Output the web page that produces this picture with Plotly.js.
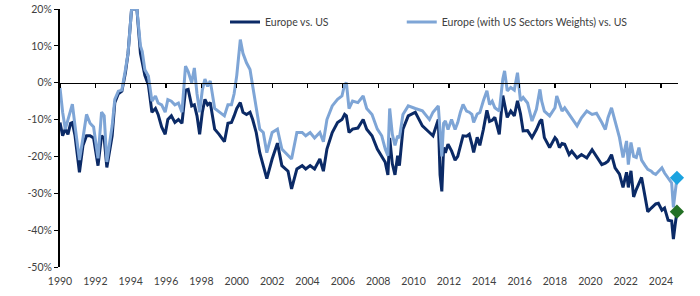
<!DOCTYPE html>
<html>
<head>
<meta charset="utf-8">
<script src="https://cdn.plot.ly/plotly-3.0.1.min.js"></script>
<style>html,body{margin:0;padding:0;background:#fff;}#chart{width:700px;height:296px;}</style>
</head>
<body>
<div id="chart"></div>
<script>
// Decimal-year time points (shared by both series)
const years = [
1990.00,1990.15,1990.30,1990.45,1990.60,1990.70,1990.85,1991.00,1991.10,1991.30,
1991.50,1991.70,1991.90,1992.15,1992.35,1992.50,1992.65,1992.95,1993.10,1993.30,
1993.50,1993.70,1993.85,1994.05,1994.35,1994.55,1994.65,1994.80,1995.00,1995.20,
1995.40,1995.55,1995.75,1995.95,1996.10,1996.30,1996.50,1996.70,1996.90,1997.10,
1997.25,1997.45,1997.60,1997.75,1997.90,1998.05,1998.20,1998.35,1998.50,1998.75,
1999.00,1999.30,1999.50,1999.70,1999.85,2000.00,2000.20,2000.35,2000.55,2000.75,
2000.90,2001.10,2001.30,2001.50,2001.70,2002.00,2002.30,2002.55,2002.90,2003.10,
2003.40,2003.70,2003.90,2004.15,2004.40,2004.70,2004.90,2005.10,2005.40,2005.70,
2005.95,2006.10,2006.20,2006.35,2006.55,2006.85,2007.15,2007.35,2007.65,2007.95,
2008.20,2008.40,2008.55,2008.65,2008.80,2008.95,2009.10,2009.20,2009.40,2009.70,
2010.10,2010.50,2010.90,2011.10,2011.40,
2011.50,2011.60,2011.70,2011.80,2011.95,2012.15,2012.35,2012.50,2012.65,2012.80,
2013.00,2013.15,2013.30,2013.40,2013.60,2013.75,2013.95,2014.15,2014.30,2014.45,
2014.60,2014.85,2015.05,2015.15,2015.30,2015.50,2015.70,2015.88,2016.05,2016.20,
2016.45,2016.70,2016.95,2017.15,2017.25,2017.40,2017.70,2018.00,2018.10,2018.25,
2018.40,2018.55,2018.80,2018.95,2019.25,2019.50,2019.80,2020.10,2020.35,2020.65,
2020.85,2021.00,2021.20,2021.40,2021.65,2021.85,2022.05,2022.15,2022.30,2022.45,
2022.60,2022.75,2022.90,2023.10,2023.25,2023.45,2023.55,2023.70,2023.85,2024.05,
2024.20,2024.40,2024.60,2024.70,2024.80,2024.90
];
// Europe vs. US (%)
const europeVsUS = [
-10.8,-14.4,-12.5,-14.0,-11.0,-10.8,-14.4,-20.0,-24.3,-17.0,
-14.4,-14.4,-15.0,-22.5,-14.4,-15.0,-23.0,-14.4,-5.4,-3.0,
-2.3,2.7,8.0,20.0,20.0,8.0,5.4,2.0,-0.6,-8.0,
-7.0,-8.6,-12.0,-14.0,-10.0,-9.0,-10.8,-10.0,-11.0,-2.0,
-1.8,-6.3,-6.0,-9.0,-14.0,-8.0,-4.5,-6.0,-5.4,-12.6,
-14.0,-16.0,-11.0,-10.8,-9.0,-7.0,-5.4,-8.0,-8.6,-8.0,
-10.0,-13.5,-19.0,-22.5,-26.0,-20.7,-16.4,-22.5,-24.0,-28.8,
-23.4,-22.5,-23.4,-22.5,-23.4,-20.7,-24.0,-18.0,-13.5,-10.8,
-10.0,-8.6,-9.0,-13.5,-12.6,-12.3,-10.0,-12.6,-14.4,-18.0,
-19.8,-21.6,-25.0,-15.0,-22.0,-25.0,-19.8,-22.5,-12.6,-9.0,
-8.0,-11.7,-13.5,-14.4,-10.0,
-25.0,-29.5,-17.6,-19.0,-16.7,-18.5,-21.0,-20.0,-17.0,-14.4,
-14.5,-14.0,-16.7,-18.9,-14.8,-17.0,-12.7,-7.5,-10.5,-10.2,
-9.4,-14.0,-3.5,-6.0,-9.4,-7.7,-9.0,-4.9,-8.4,-13.1,
-13.0,-14.9,-12.7,-10.5,-10.0,-14.9,-17.6,-14.9,-15.5,-17.6,
-16.5,-16.7,-19.5,-18.6,-20.4,-19.5,-20.4,-18.2,-20.0,-22.2,
-21.8,-21.3,-19.5,-23.1,-24.8,-28.4,-24.3,-28.4,-23.9,-31.0,
-29.0,-27.5,-25.7,-31.0,-35.0,-34.0,-33.6,-32.9,-32.7,-34.6,
-34.0,-37.3,-37.5,-42.4,-38.5,-35.0
];
// Europe (with US Sectors Weights) vs. US (%)
const europeSectorAdj = [
-1.4,-8.0,-12.6,-10.0,-7.0,-5.8,-11.7,-18.0,-21.0,-15.0,
-8.6,-11.0,-12.0,-20.5,-8.0,-9.0,-21.5,-11.7,-4.5,-2.3,
-2.0,3.5,8.0,20.0,20.0,10.0,8.5,3.5,1.8,-5.0,
-3.6,-5.5,-6.0,-8.0,-4.6,-5.0,-6.0,-5.5,-8.0,4.5,
3.0,0.0,4.0,-3.0,-8.0,-2.0,1.0,-1.0,0.5,-7.0,
-8.0,-9.0,-6.0,-6.0,-3.0,2.0,11.7,8.0,5.4,3.6,
-0.9,-7.0,-12.6,-13.5,-19.0,-13.5,-12.6,-18.0,-19.8,-20.7,
-13.5,-13.5,-14.4,-13.5,-15.0,-13.5,-16.0,-10.0,-6.3,-4.5,
-3.6,-0.5,0.0,-7.0,-5.0,-5.4,-3.6,-7.0,-8.6,-12.6,
-14.4,-18.0,-19.8,-7.0,-14.0,-17.0,-14.4,-15.0,-8.6,-6.3,
-7.0,-7.6,-10.0,-8.0,-6.3,
-14.0,-20.0,-11.0,-10.4,-12.7,-10.0,-12.7,-10.8,-8.0,-5.9,
-7.7,-8.0,-8.6,-10.8,-8.5,-8.1,-4.9,-2.2,-5.9,-5.0,
-6.8,-7.7,1.0,3.2,-2.2,-1.3,-2.0,2.7,-4.9,-4.0,
-5.5,-10.4,-7.2,-1.8,-5.0,-7.7,-9.0,-6.8,-3.6,-6.0,
-7.7,-6.8,-8.5,-9.5,-11.7,-9.5,-7.7,-8.6,-8.3,-10.8,
-12.7,-9.5,-6.8,-10.4,-14.9,-20.3,-15.8,-22.2,-16.2,-20.0,
-20.3,-17.6,-21.0,-22.5,-23.5,-24.0,-24.5,-24.9,-24.0,-23.1,
-24.5,-25.8,-27.2,-33.8,-29.5,-25.8
];
const seriesNames = ["Europe vs. US", "Europe (with US Sectors Weights) vs. US"];
const lastYear = [2024.9];
const lastDark = [-35.0];
const lastLight = [-25.8];
const yTickVals = [20, 10, 0, -10, -20, -30, -40, -50];
const yTickText = ["20%", "10%", "0%", "-10%", "-20%", "-30%", "-40%", "-50%"];
const xTickVals = [1990,1992,1994,1996,1998,2000,2002,2004,2006,2008,2010,2012,2014,2016,2018,2020,2022,2024];
const xTickText = xTickVals.map(String);

const FONT = "Lato, 'Open Sans', sans-serif";
const traces = [
  {x: years, y: europeVsUS, name: seriesNames[0], type: "scatter", mode: "lines",
   line: {color: "#0b2a66", width: 3}, legend: "legend"},
  {x: years, y: europeSectorAdj, name: seriesNames[1], type: "scatter", mode: "lines",
   line: {color: "#7ea5d6", width: 3}, legend: "legend2"},
  {x: lastYear, y: lastLight, type: "scatter", mode: "markers", showlegend: false, cliponaxis: false,
   marker: {symbol: "diamond", size: 11, color: "#1ba3e0"}},
  {x: lastYear, y: lastDark, type: "scatter", mode: "markers", showlegend: false, cliponaxis: false,
   marker: {symbol: "diamond", size: 11, color: "#237025"}},
  {x: years.slice(0, 1), y: [0], xaxis: "x2", type: "scatter", mode: "lines",
   line: {width: 0}, showlegend: false, hoverinfo: "skip"}
];

const legendFont = {family: FONT, size: 10.5, color: "#404040"};
const layout = {
  width: 700, height: 296,
  margin: {l: 60, r: 22, t: 7, b: 29},
  paper_bgcolor: "#fff", plot_bgcolor: "#fff",
  font: {family: FONT, size: 10.5, color: "#404040"},
  showlegend: true,
  legend: {orientation: "h", x: 0.267, xanchor: "left", y: 0.95, yanchor: "middle",
    font: legendFont, bgcolor: "rgba(0,0,0,0)"},
  legend2: {orientation: "h", x: 0.553, xanchor: "left", y: 0.95, yanchor: "middle",
    font: legendFont, bgcolor: "rgba(0,0,0,0)"},
  xaxis: {range: [1990, 2024.96], tickvals: xTickVals, ticktext: xTickText, showline: false,
    showgrid: false, zeroline: false, ticks: "", ticklabelstandoff: 6},
  xaxis2: {range: [1990, 2024.96], matches: "x", overlaying: "x", anchor: "free", position: 50/70,
    tickvals: xTickVals, showticklabels: false, showline: true, linecolor: "#000", linewidth: 1.5,
    ticks: "outside", ticklen: 4, tickwidth: 1.2, tickcolor: "#000", showgrid: false, zeroline: false},
  yaxis: {range: [-50, 20], tickvals: yTickVals, ticktext: yTickText, showline: true,
    linecolor: "#000", linewidth: 2, ticks: "outside", ticklen: 4, tickcolor: "#000",
    showgrid: false, zeroline: false}
};
Plotly.newPlot("chart", traces, layout, {displayModeBar: false, staticPlot: true});
</script>
</body>
</html>
